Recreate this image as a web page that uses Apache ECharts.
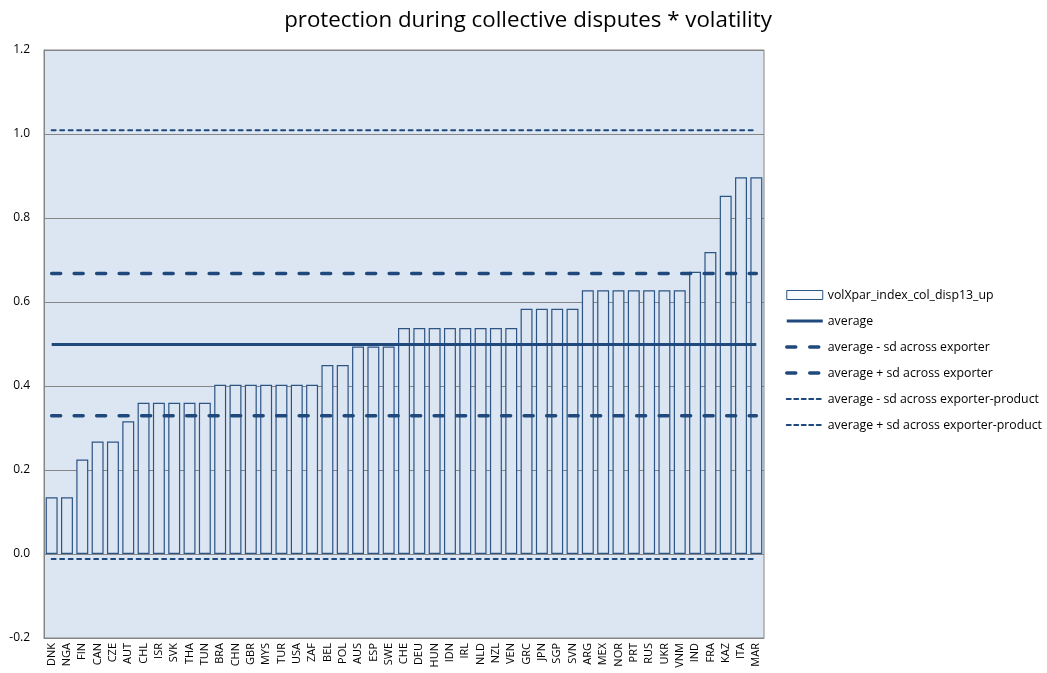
<!DOCTYPE html>
<html>
<head>
<meta charset="utf-8">
<script src="https://cdn.jsdelivr.net/npm/echarts@6/dist/echarts.min.js"></script>
<style>
html,body{margin:0;padding:0;background:#fff;}
#c{width:1047px;height:673px;}
</style>
</head>
<body>
<div id="c"></div>
<script>
const categories = ["DNK","NGA","FIN","CAN","CZE","AUT","CHL","ISR","SVK","THA","TUN","BRA","CHN","GBR","MYS","TUR","USA","ZAF","BEL","POL","AUS","ESP","SWE","CHE","DEU","HUN","IDN","IRL","NLD","NZL","VEN","GRC","JPN","SGP","SVN","ARG","MEX","NOR","PRT","RUS","UKR","VNM","IND","FRA","KAZ","ITA","MAR"];
const values = [0.135,0.135,0.225,0.268,0.268,0.316,0.360,0.360,0.360,0.360,0.360,0.403,0.403,0.403,0.403,0.403,0.403,0.403,0.450,0.450,0.494,0.494,0.494,0.538,0.538,0.538,0.538,0.538,0.538,0.538,0.538,0.584,0.584,0.584,0.584,0.628,0.628,0.628,0.628,0.628,0.628,0.628,0.672,0.719,0.853,0.897,0.897];
const average = 0.499;
const avgMinusSdExporter = 0.329;
const avgPlusSdExporter = 0.668;
const avgMinusSdProduct = -0.012;
const avgPlusSdProduct = 1.009;
const yTicks = [-0.2, 0.0, 0.2, 0.4, 0.6, 0.8, 1.0, 1.2];

const seriesNames = [
  "volXpar_index_col_disp13_up",
  "average",
  "average - sd across exporter",
  "average + sd across exporter",
  "average - sd across exporter-product",
  "average + sd across exporter-product"
];

const dark = '#1F497D';
const FONT = 'Open Sans';
const flat = v => categories.map(() => v);
const styles = [
  null,
  { width: 3, type: 'solid' },
  { width: 3.5, type: [9, 13.5] },
  { width: 3.5, type: [9, 13.5] },
  { width: 2, type: [4, 4.5] },
  { width: 2, type: [4, 4.5] }
];
const legendStyles = [
  null,
  { width: 3, type: 'solid' },
  { width: 3.5, type: [9, 14] },
  { width: 3.5, type: [9, 14] },
  { width: 2, type: [4, 3.5] },
  { width: 2, type: [4, 3.5] }
];

function lineSeries(i, level) {
  const s = styles[i];
  return {
    name: seriesNames[i], type: 'line', data: flat(level),
    symbol: 'none', silent: true,
    lineStyle: { color: dark, width: s.width, type: s.type, cap: s.type === 'solid' ? 'butt' : 'round' },
    itemStyle: { color: dark }, z: 5
  };
}

const chart = echarts.init(document.getElementById('c'), null, { renderer: 'canvas' });
chart.setOption({
  animation: false,
  backgroundColor: '#ffffff',
  title: {
    text: 'protection during collective disputes * volatility',
    left: 523, top: 5, textAlign: 'center',
    textStyle: { fontFamily: FONT, fontWeight: 'normal', fontSize: 22.3, color: '#000' }
  },
  grid: {
    left: 44, top: 50, right: 283, bottom: 35,
    show: true, backgroundColor: '#DCE6F2', borderColor: '#868686', borderWidth: 1
  },
  legend: {
    orient: 'vertical', left: 780, top: 284,
    itemWidth: 36, itemHeight: 9, itemGap: 14,
    textStyle: { fontFamily: FONT, fontSize: 12.3, color: '#000' },
    data: seriesNames.map((n, i) => i === 0
      ? { name: n, icon: 'rect', itemStyle: { color: '#F7F9FC', borderColor: '#2C5485', borderWidth: 1 } }
      : { name: n, itemStyle: { opacity: 0 },
          lineStyle: { color: dark, width: legendStyles[i].width, type: legendStyles[i].type,
                       cap: legendStyles[i].type === 'solid' ? 'butt' : 'round' } })
  },
  xAxis: {
    type: 'category', data: categories, boundaryGap: true,
    axisLine: { onZero: false, lineStyle: { color: '#868686' } },
    axisTick: { show: false },
    axisLabel: { rotate: 90, interval: 0, margin: 5, fontFamily: FONT, fontSize: 11, color: '#000' },
    splitLine: { show: false }
  },
  yAxis: {
    type: 'value', min: -0.2, max: 1.2, interval: 0.2,
    axisLine: { show: true, lineStyle: { color: '#868686' } },
    axisTick: { show: false },
    axisLabel: { margin: 14, fontFamily: FONT, fontSize: 12, color: '#000',
      formatter: v => Number(v).toFixed(1) },
    splitLine: { show: true, lineStyle: { color: '#868686', width: 1 } }
  },
  series: [
    {
      name: seriesNames[0], type: 'bar', data: values, barCategoryGap: '22%',
      itemStyle: { color: '#DCE6F2', borderColor: '#2C5485', borderWidth: 1.2 },
      z: 2, silent: true
    },
    lineSeries(1, average),
    lineSeries(2, avgMinusSdExporter),
    lineSeries(3, avgPlusSdExporter),
    lineSeries(4, avgMinusSdProduct),
    lineSeries(5, avgPlusSdProduct)
  ]
});
</script>
</body>
</html>
